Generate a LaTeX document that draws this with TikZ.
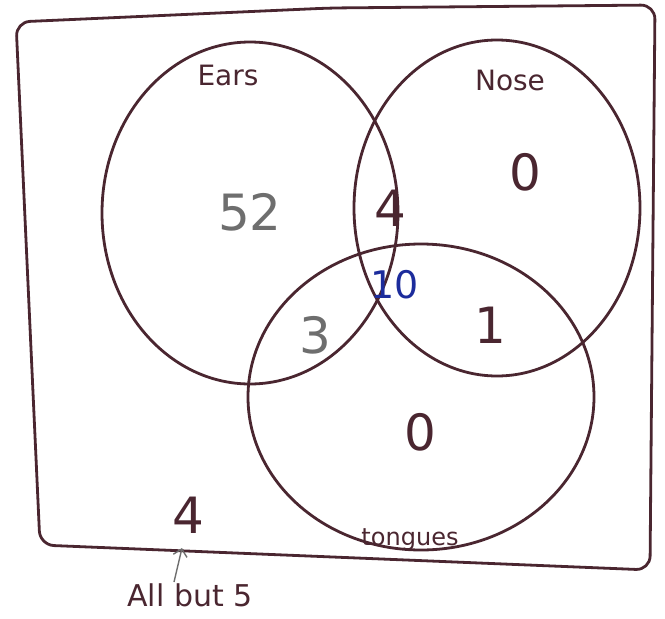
\documentclass[tikz,border=0pt]{standalone}
\usepackage{fontspec}
\setmainfont{DejaVu Sans}
\usetikzlibrary{arrows.meta}
\definecolor{ink}{HTML}{4A2630}
\definecolor{pencil}{HTML}{6E6E6E}
\definecolor{bluepen}{HTML}{1C2C9C}
\tikzset{
  setline/.style={draw=ink, line width=2.8pt},
  lbl/.style={text=ink, font=\fontsize{28}{30}\selectfont},
  num/.style={text=ink, font=\fontsize{50}{54}\selectfont},
}
\begin{document}
\begin{tikzpicture}[x=1pt,y=-1pt]
\useasboundingbox (0,0) rectangle (665,619);
% universal set
\draw[setline, rounded corners=14pt] (330,8) -- (655,5) -- (650,570) -- (40,545) -- (16,22) -- cycle;
% sets
\draw[setline] (250,213) ellipse [x radius=148, y radius=171];
\draw[setline] (497,208) ellipse [x radius=143, y radius=168];
\draw[setline] (421,397) ellipse [x radius=173, y radius=153];
% labels
\node[lbl] (ears) at (228,75) {Ears};
\node[lbl] (nose) at (510,80) {Nose};
\node[lbl, font=\fontsize{24}{26}\selectfont] (tong) at (410,540) {tongues};
% numbers
\node[num, text=pencil] (n52) at (250,212) {52};
\node[num] (n4a) at (390,208) {4};
\node[num] (n0a) at (525,172) {0};
\node[num, text=bluepen, font=\fontsize{38}{40}\selectfont] (n10) at (395,285) {10};
\node[num, text=pencil] (n3) at (315,335) {3};
\node[num] (n1) at (490,325) {1};
\node[num] (n0b) at (420,432) {0};
\node[num] (n4b) at (188,515) {4};
% outside note
\node[lbl, font=\fontsize{30}{32}\selectfont] (allbut) at (190,595) {All but 5};
\coordinate (tip) at (182,548);
\draw[draw=pencil, line width=1.4pt, -{Straight Barb[length=7pt]}] (174,582) -- (tip);
\end{tikzpicture}
\end{document}
